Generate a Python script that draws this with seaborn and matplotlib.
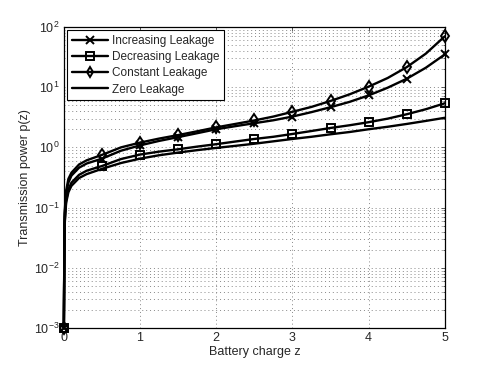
import matplotlib
matplotlib.use("Agg")
import matplotlib.pyplot as plt
import matplotlib.ticker as mticker
import seaborn as sns
import numpy as np

z = [0, 0.01, 0.03, 0.06, 0.1, 0.2, 0.3, 0.5, 0.75, 1, 1.25, 1.5, 1.75, 2, 2.25, 2.5,
     2.75, 3, 3.25, 3.5, 3.75, 4, 4.25, 4.5, 4.75, 5]
zero_leak = [1e-3, 0.05, 0.12, 0.18, 0.23, 0.31, 0.36, 0.44, 0.55, 0.65, 0.74, 0.82, 0.90,
             0.98, 1.06, 1.15, 1.26, 1.38, 1.5, 1.65, 1.8, 2.0, 2.2, 2.45, 2.75, 3.1]
decreasing = [1e-3, 0.055, 0.13, 0.2, 0.26, 0.35, 0.41, 0.49, 0.64, 0.76, 0.85, 0.93, 1.03,
              1.13, 1.25, 1.38, 1.5, 1.67, 1.87, 2.1, 2.33, 2.62, 3.0, 3.55, 4.3, 5.4]
increasing = [1e-3, 0.07, 0.17, 0.26, 0.34, 0.46, 0.54, 0.65, 0.88, 1.08, 1.28, 1.48, 1.72,
              2.0, 2.25, 2.52, 2.82, 3.25, 3.85, 4.65, 5.7, 7.3, 9.8, 13.8, 21, 35]
constant = [1e-3, 0.08, 0.19, 0.3, 0.38, 0.52, 0.61, 0.75, 1.0, 1.2, 1.4, 1.6, 1.85, 2.15,
            2.45, 2.8, 3.25, 3.9, 4.7, 5.9, 7.6, 10.2, 14.2, 21.5, 36, 70]
labels = ["Increasing Leakage", "Decreasing Leakage", "Constant Leakage", "Zero Leakage"]

sns.set_style("white")
plt.rcParams['font.family'] = ['Liberation Sans', 'DejaVu Sans']

fig = plt.figure(figsize=(4.91, 3.69), dpi=100)
ax = fig.add_axes([0.130, 0.111, 0.776, 0.816])

mark_idx = [i for i, v in enumerate(z) if abs(v * 2 - round(v * 2)) < 1e-9]
series = [(increasing, 'x'), (decreasing, 's'), (constant, 'd'), (zero_leak, None)]
for (vals, m), lab in zip(series, labels):
    kw = dict(color='black', lw=1.7, estimator=None, label=lab, ax=ax, clip_on=False)
    if m is not None:
        kw.update(marker=m, markevery=mark_idx, ms=6, mfc='none', mec='black', mew=1.4)
    sns.lineplot(x=z, y=vals, **kw)

ax.set_yscale('log')
ax.set_xlim(0, 5)
ax.set_ylim(1e-3, 1e2)
ax.set_xticks([0, 1, 2, 3, 4, 5])
ax.yaxis.set_major_locator(mticker.LogLocator(base=10, numticks=10))
ax.yaxis.set_minor_locator(mticker.LogLocator(base=10, subs=np.arange(2, 10), numticks=20))
ax.yaxis.set_minor_formatter(mticker.NullFormatter())
ax.grid(True, which='major', axis='both', linestyle=(0, (1, 3)), color='#888888', lw=0.7)
ax.grid(True, which='minor', axis='y', linestyle=(0, (1, 3)), color='#888888', lw=0.7)
ax.tick_params(which='both', direction='in', top=True, right=True, labelsize=9,
               length=3, width=0.6, color='#444444', pad=3)
ax.tick_params(which='minor', length=1.8)
for s in ax.spines.values():
    s.set_color('black')
    s.set_linewidth(0.9)
ax.set_xlabel("Battery charge z", fontsize=9, labelpad=1)
ax.set_ylabel("Transmission power p(z)", fontsize=9, labelpad=2)

leg = ax.legend(loc='upper left', fontsize=8.5, frameon=True, fancybox=False,
                edgecolor='black', framealpha=1, borderpad=0.4, labelspacing=0.35,
                handlelength=3.0, handletextpad=0.4, borderaxespad=0.3, markerscale=0.85)
leg.get_frame().set_linewidth(0.8)

fig.savefig("out.png", dpi=100)
